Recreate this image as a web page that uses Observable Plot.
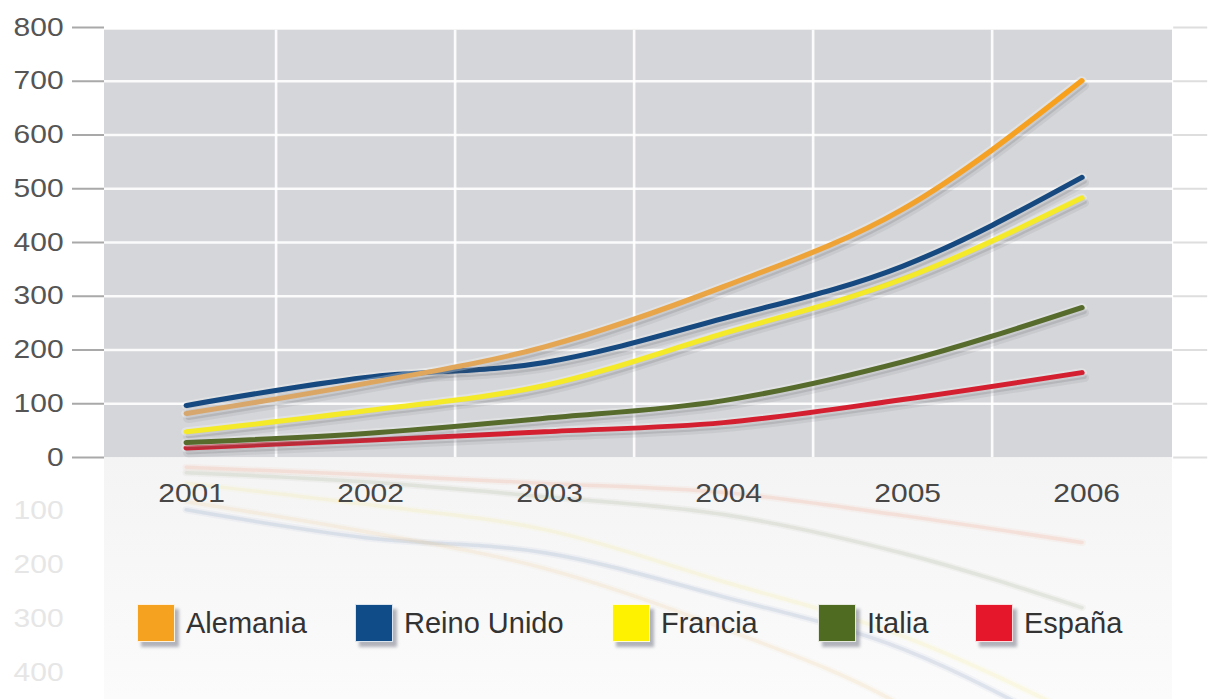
<!DOCTYPE html>
<html>
<head>
<meta charset="utf-8">
<script src="https://cdn.jsdelivr.net/npm/d3@7"></script>
<script src="https://cdn.jsdelivr.net/npm/@observablehq/plot@0.6"></script>
<style>
  body { margin: 0; background: #fff; }
  #wrap { position: relative; width: 1209px; height: 699px; overflow: hidden; font-family: "Liberation Sans", Arial, sans-serif; }
  #wrap svg { position: absolute; left: 0; top: 0; }
  #legend { position: absolute; left: 0; top: 604px; width: 1209px; height: 46px; }
  .item { position: absolute; top: 0; display: flex; align-items: center; }
  .sw { width: 38px; height: 38px; box-sizing: border-box; border: 1px solid rgba(255,255,255,0.85);
        box-shadow: 4px 5px 3px rgba(90,95,110,0.45); margin-right: 11px; }
  .lab { font-size: 29px; line-height: 38px; color: #333; }
</style>
</head>
<body>
<div id="wrap"><div id="legend"></div></div>
<script>
// ---- data ----
const years = [2001, 2002, 2003, 2004, 2005, 2006];
const series = ["Alemania", "Reino Unido", "Francia", "Italia", "España"];
const alemania   = [82, 138, 206, 318, 462, 701];
const reinoUnido = [97, 149, 177, 259, 356, 521];
const francia    = [48, 87, 134, 231, 332, 483];
const italia     = [28, 45, 73, 106, 178, 279];
const espana     = [18, 32, 48, 65, 108, 158];
const lineColors   = ["url(#gradAlemania)", "#16497f", "#f4ea2a", "#566b2c", "#d41f30"];
const reflColors   = ["#f0a640", "#5a7aa8", "#f4ea2a", "#7d8a5a", "#f08a60"];
const reflOpacity  = [0.09, 0.13, 0.08, 0.12, 0.14];
const legendColors = ["#f4a21f", "#0f4c88", "#fff200", "#4f6b22", "#e5172b"];
const legendLeft   = [137, 355, 612, 818, 975];
const yTicks = [0, 100, 200, 300, 400, 500, 600, 700, 800];
const reflectTicks = [100, 200, 300, 400];
const gridX = [2001.5, 2002.5, 2003.5, 2004.5, 2005.5];
const xDomain = [2000.542, 2006.508];
const yDomain = [-450, 800];
const bgTop = 795;

const values = [alemania, reinoUnido, francia, italia, espana];
const rows = series.map((s, i) => years.map((y, j) => ({series: s, year: y, value: values[i][j]})));

const K = 1.2; // horizontal stretch of the original picture
const W = 1209 / K;
const curve = "monotone-x";

const lineMarks = [];
const order = [4, 3, 2, 1, 0];
// faded mirror image below the zero line
for (const i of order) {
  lineMarks.push(Plot.line(rows[i], {x: "year", y: d => -d.value, curve, stroke: reflColors[i], strokeWidth: 7, strokeOpacity: reflOpacity[i] * 0.45}));
  lineMarks.push(Plot.line(rows[i], {x: "year", y: d => -d.value, curve, stroke: reflColors[i], strokeWidth: 3.5, strokeOpacity: reflOpacity[i]}));
}
for (const i of order) {
  lineMarks.push(Plot.line(rows[i], {x: "year", y: "value", curve, stroke: "#5a5d66", strokeWidth: 9, strokeOpacity: 0.09, dx: 2 / K, dy: 5}));
  lineMarks.push(Plot.line(rows[i], {x: "year", y: "value", curve, stroke: "#5a5d66", strokeWidth: 5, strokeOpacity: 0.18, dx: 2 / K, dy: 4}));
  lineMarks.push(Plot.line(rows[i], {x: "year", y: "value", curve, stroke: "#ffffff", strokeWidth: 9, strokeOpacity: 0.28}));
  lineMarks.push(Plot.line(rows[i], {x: "year", y: "value", curve, stroke: lineColors[i], strokeWidth: 5}));
}

const plot = Plot.plot({
  width: W,
  height: 699,
  marginLeft: 104 / K,
  marginRight: 37 / K,
  marginTop: 27,
  marginBottom: 0,
  x: {domain: xDomain, axis: null},
  y: {domain: yDomain, axis: null},
  style: {fontFamily: "'Liberation Sans', Arial, sans-serif", background: "transparent", overflow: "visible"},
  marks: [
    Plot.rect([0], {x1: xDomain[0], x2: xDomain[1], y1: yDomain[0], y2: 0, fill: "url(#fadeBg)"}),
    Plot.rect([0], {x1: xDomain[0], x2: xDomain[1], y1: 0, y2: bgTop, fill: "#d5d6d9"}),
    Plot.ruleY(yTicks.filter(d => d > 0 && d < 800), {stroke: "#ffffff", strokeWidth: 2.5, strokeOpacity: 0.9}),
    Plot.ruleX(gridX, {y1: 0, y2: bgTop, stroke: "#ffffff", strokeWidth: 2.2, strokeOpacity: 0.9}),
    Plot.axisY(yTicks, {anchor: "left", tickSize: 32 / K, tickPadding: 9 / K, stroke: "#a9a9a9", strokeWidth: 2, fill: "#555", fontSize: 25, label: null, tickFormat: d => String(d)}),
    Plot.axisY(yTicks, {anchor: "right", tickSize: 34 / K, stroke: "#dedede", strokeWidth: 2, fill: "none", label: null}),
    Plot.text(reflectTicks, {x: xDomain[0], y: d => -d, text: d => String(d), textAnchor: "end", dx: -41 / K, fill: "#e6e6e6", fontSize: 25}),
    ...lineMarks,
    Plot.text(years, {x: d => d, y: 0, dy: 36, dx: 5 / K, text: d => String(d), fill: "#474747", fontSize: 25})
  ]
});

const svg = d3.select(plot);
svg.attr("width", 1209).attr("height", 699).attr("preserveAspectRatio", "none")
   .style("width", "1209px").style("height", "699px").style("max-width", "none");
const defs = svg.insert("defs", ":first-child");
const g1 = defs.append("linearGradient").attr("id", "fadeBg").attr("x1", 0).attr("y1", 0).attr("x2", 0).attr("y2", 1);
g1.append("stop").attr("offset", "0%").attr("stop-color", "#f4f4f5");
g1.append("stop").attr("offset", "100%").attr("stop-color", "#fbfbfb");
const g2 = defs.append("linearGradient").attr("id", "gradAlemania").attr("x1", 0).attr("y1", 0).attr("x2", 1).attr("y2", 0);
g2.append("stop").attr("offset", "0%").attr("stop-color", "#d6a76f");
g2.append("stop").attr("offset", "45%").attr("stop-color", "#e6a650");
g2.append("stop").attr("offset", "100%").attr("stop-color", "#f8a01a");

const wrap = document.getElementById("wrap");
wrap.insertBefore(plot, wrap.firstChild);

const legend = d3.select("#legend");
series.forEach((s, i) => {
  const it = legend.append("div").attr("class", "item").style("left", legendLeft[i] + "px");
  it.append("div").attr("class", "sw").style("background", legendColors[i]);
  it.append("span").attr("class", "lab").text(s);
});
</script>
</body>
</html>
